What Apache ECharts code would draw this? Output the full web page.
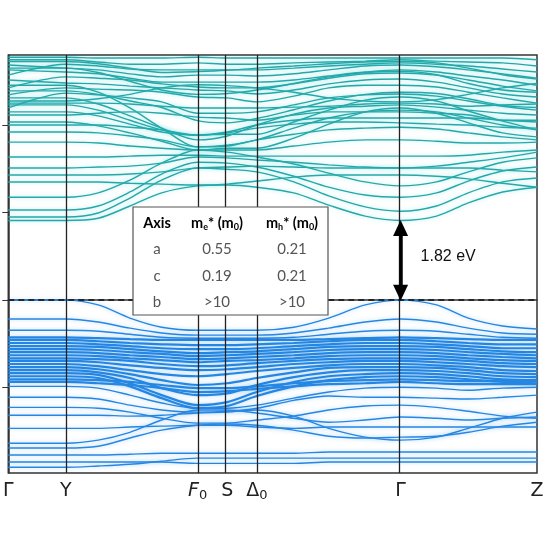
<!DOCTYPE html>
<html>
<head>
<meta charset="utf-8">
<script src="https://cdn.jsdelivr.net/npm/echarts@6/dist/echarts.min.js"></script>
<style>
html, body { margin: 0; padding: 0; background: #fff; }
#chart { width: 551px; height: 553px; }
</style>
</head>
<body>
<div id="chart"></div>
<script>
// k-path (normalised distance) and high-symmetry points
var kGrid = [0, 0.109, 0.17, 0.23, 0.29, 0.358, 0.414, 0.470, 0.54, 0.606, 0.675, 0.742, 0.81, 0.87, 0.935, 1.0];
var kTicks = [0, 0.109, 0.358, 0.414, 0.470, 0.742, 1.0];
var kLabels = ['{n|Γ}', '{n|Y}', '{it|F}{sub|0}', '{n|S}', '{n|Δ}{sub|0}', '{n|Γ}', '{n|Z}'];
var eTicks = [-2, 0, 2, 4];
var gapEv = 1.82;
var gapK = 0.742;

// effective mass table
var tableHead = ['Axis', '{b|m}{s|e}{b|* (m}{s|0}{b|)}', '{b|m}{s|h}{b|* (m}{s|0}{b|)}'];
var tableRows = [
	['a', '0.55', '0.21'],
	['c', '0.19', '0.21'],
	['b', '>10', '>10']
];

// conduction bands, eV, one value per kGrid point
var conductionBands = [
	[1.82, 1.82, 1.87, 2.15, 2.45, 2.61, 2.63, 2.58, 2.45, 2.17, 1.92, 1.82, 1.92, 2.22, 2.47, 2.58],
	[1.90, 1.90, 1.99, 2.33, 2.74, 3.02, 2.99, 2.93, 2.70, 2.38, 2.13, 2.03, 2.15, 2.45, 2.70, 2.79],
	[2.06, 2.06, 2.15, 2.47, 2.88, 3.15, 3.13, 3.04, 2.83, 2.58, 2.40, 2.35, 2.45, 2.72, 2.95, 3.04],
	[2.35, 2.35, 2.45, 2.74, 3.13, 3.43, 3.38, 3.27, 3.11, 2.90, 2.70, 2.61, 2.70, 2.93, 3.15, 3.25],
	[2.70, 2.70, 2.70, 2.67, 2.65, 2.63, 2.65, 2.72, 2.81, 2.86, 2.86, 2.86, 2.83, 2.77, 2.67, 2.58],
	[2.86, 2.86, 2.86, 2.88, 2.93, 3.02, 3.04, 3.06, 3.04, 3.02, 3.02, 3.02, 3.02, 3.02, 2.97, 2.93],
	[3.02, 3.02, 3.04, 3.06, 3.13, 3.27, 3.25, 3.20, 3.15, 3.09, 3.04, 3.02, 3.06, 3.15, 3.25, 3.38],
	[3.27, 3.27, 3.27, 3.29, 3.31, 3.31, 3.29, 3.29, 3.29, 3.29, 3.29, 3.29, 3.29, 3.31, 3.38, 3.43],
	[3.61, 3.61, 3.59, 3.52, 3.47, 3.43, 3.43, 3.43, 3.52, 3.61, 3.66, 3.66, 3.63, 3.59, 3.59, 3.61],
	[3.84, 3.84, 3.82, 3.75, 3.66, 3.50, 3.52, 3.66, 3.79, 3.89, 3.93, 3.95, 3.91, 3.82, 3.73, 3.66],
	[4.07, 4.07, 3.98, 3.82, 3.63, 3.43, 3.47, 3.47, 3.70, 4.02, 4.30, 4.39, 4.27, 4.05, 3.82, 3.73],
	[4.30, 4.30, 4.21, 4.02, 3.84, 3.77, 3.79, 3.79, 4.07, 4.34, 4.57, 4.64, 4.55, 4.32, 4.09, 3.89],
	[4.46, 4.46, 4.34, 4.11, 3.89, 3.77, 3.84, 4.00, 4.11, 4.16, 4.16, 4.16, 4.16, 4.16, 4.11, 4.07],
	[4.62, 4.62, 4.48, 4.21, 3.93, 3.66, 3.75, 4.00, 4.25, 4.39, 4.43, 4.46, 4.41, 4.34, 4.27, 4.23],
	[4.39, 4.73, 4.69, 4.62, 4.53, 4.27, 4.27, 4.30, 4.46, 4.62, 4.69, 4.71, 4.66, 4.55, 4.43, 4.34],
	[4.69, 4.85, 4.82, 4.80, 4.75, 4.64, 4.62, 4.53, 4.66, 4.85, 4.91, 4.91, 4.87, 4.75, 4.62, 4.50],
	[5.03, 4.96, 4.94, 4.89, 4.85, 4.80, 4.78, 4.71, 4.80, 4.94, 5.03, 5.05, 4.98, 4.85, 4.71, 4.64],
	[4.85, 5.10, 5.07, 5.03, 4.94, 4.87, 4.85, 4.85, 4.94, 5.07, 5.17, 5.19, 5.14, 5.03, 4.89, 4.78],
	[5.26, 5.21, 5.17, 5.07, 4.98, 4.98, 4.98, 4.98, 5.03, 5.12, 5.21, 5.26, 5.21, 5.12, 5.03, 4.91],
	[5.37, 5.30, 5.26, 5.17, 5.10, 5.14, 5.14, 5.12, 5.17, 5.26, 5.35, 5.37, 5.33, 5.26, 5.17, 5.07],
	[5.14, 5.39, 5.35, 5.28, 5.26, 5.26, 5.26, 5.26, 5.30, 5.35, 5.39, 5.42, 5.39, 5.35, 5.28, 5.21],
	[5.49, 5.49, 5.44, 5.39, 5.39, 5.42, 5.39, 5.39, 5.42, 5.44, 5.46, 5.49, 5.46, 5.44, 5.42, 5.35],
	[5.55, 5.55, 5.53, 5.53, 5.53, 5.55, 5.53, 5.53, 5.53, 5.53, 5.53, 5.53, 5.53, 5.53, 5.53, 5.49],
	[4.23, 4.23, 4.27, 4.30, 4.27, 4.18, 4.16, 4.11, 4.23, 4.30, 4.30, 4.30, 4.27, 4.23, 4.11, 4.11],
	[4.50, 4.50, 4.50, 4.48, 4.43, 4.39, 4.39, 4.39, 4.41, 4.43, 4.48, 4.50, 4.48, 4.43, 4.46, 4.48],
	[4.91, 4.91, 4.75, 4.39, 3.93, 3.50, 3.54, 3.66, 3.93, 4.16, 4.30, 4.34, 4.30, 4.16, 4.00, 3.89],
	[4.00, 4.00, 4.00, 3.95, 3.89, 3.77, 3.82, 3.93, 4.02, 4.07, 4.07, 4.05, 4.02, 4.00, 3.95, 3.93],
	[5.30, 5.30, 5.20, 5.00, 4.80, 4.70, 4.72, 4.80, 4.95, 5.10, 5.20, 5.23, 5.15, 4.95, 4.80, 4.75],
	[4.55, 4.55, 4.60, 4.70, 4.85, 4.92, 4.90, 4.85, 4.75, 4.62, 4.55, 4.53, 4.58, 4.70, 4.85, 4.95],
	[5.45, 5.45, 5.40, 5.30, 5.20, 5.22, 5.25, 5.30, 5.35, 5.40, 5.44, 5.45, 5.42, 5.30, 5.15, 5.05],
	[4.78, 4.78, 4.70, 4.55, 4.40, 4.10, 4.05, 4.15, 4.35, 4.55, 4.70, 4.75, 4.72, 4.60, 4.45, 4.40]
];

// valence bands, eV
var valenceBands = [
	[0, 0, -0.11, -0.41, -0.62, -0.69, -0.69, -0.69, -0.62, -0.41, -0.11, 0, -0.11, -0.41, -0.59, -0.66],
	[-0.43, -0.43, -0.50, -0.64, -0.75, -0.80, -0.80, -0.80, -0.75, -0.64, -0.50, -0.43, -0.50, -0.64, -0.75, -0.78],
	[-0.69, -0.69, -0.71, -0.78, -0.85, -0.87, -0.87, -0.87, -0.85, -0.78, -0.71, -0.69, -0.71, -0.78, -0.85, -0.87],
	[-0.85, -0.85, -0.87, -0.89, -0.91, -0.91, -0.91, -0.91, -0.91, -0.89, -0.87, -0.85, -0.87, -0.89, -0.91, -0.91],
	[-0.91, -0.91, -0.94, -0.98, -1.01, -1.03, -1.03, -1.01, -0.98, -0.94, -0.91, -0.91, -0.94, -0.98, -1.01, -1.01],
	[-0.98, -0.98, -1.01, -1.05, -1.10, -1.12, -1.12, -1.10, -1.05, -1.01, -0.98, -0.98, -1.01, -1.05, -1.10, -1.10],
	[-1.05, -1.05, -1.07, -1.12, -1.17, -1.21, -1.19, -1.17, -1.12, -1.07, -1.05, -1.05, -1.07, -1.12, -1.17, -1.19],
	[-1.12, -1.12, -1.14, -1.19, -1.23, -1.28, -1.26, -1.23, -1.19, -1.14, -1.12, -1.12, -1.14, -1.19, -1.23, -1.26],
	[-1.19, -1.19, -1.21, -1.26, -1.30, -1.35, -1.33, -1.30, -1.26, -1.21, -1.19, -1.19, -1.21, -1.26, -1.30, -1.33],
	[-1.26, -1.26, -1.28, -1.33, -1.37, -1.42, -1.39, -1.37, -1.33, -1.28, -1.26, -1.26, -1.28, -1.33, -1.37, -1.39],
	[-1.33, -1.33, -1.35, -1.39, -1.46, -1.51, -1.49, -1.44, -1.39, -1.35, -1.33, -1.33, -1.35, -1.39, -1.44, -1.46],
	[-1.39, -1.39, -1.42, -1.49, -1.55, -1.60, -1.58, -1.53, -1.46, -1.42, -1.39, -1.39, -1.42, -1.46, -1.51, -1.53],
	[-1.46, -1.46, -1.51, -1.60, -1.69, -1.74, -1.69, -1.62, -1.55, -1.49, -1.46, -1.46, -1.49, -1.53, -1.60, -1.62],
	[-1.53, -1.53, -1.58, -1.69, -1.83, -1.94, -1.90, -1.78, -1.65, -1.55, -1.53, -1.53, -1.55, -1.60, -1.67, -1.69],
	[-1.60, -1.60, -1.65, -1.78, -2.01, -2.17, -2.13, -1.94, -1.76, -1.65, -1.60, -1.60, -1.62, -1.67, -1.74, -1.76],
	[-1.67, -1.67, -1.71, -1.90, -2.17, -2.40, -2.33, -2.10, -1.87, -1.74, -1.69, -1.67, -1.69, -1.74, -1.81, -1.83],
	[-1.74, -1.74, -1.78, -1.97, -2.24, -2.47, -2.42, -2.19, -1.97, -1.83, -1.76, -1.74, -1.76, -1.81, -1.87, -1.90],
	[-1.81, -1.81, -1.83, -1.87, -1.94, -2.01, -2.01, -1.97, -1.90, -1.85, -1.83, -1.81, -1.83, -1.85, -1.85, -1.85],
	[-1.87, -1.87, -1.90, -1.94, -2.01, -2.10, -2.08, -2.03, -1.97, -1.92, -1.90, -1.87, -1.90, -1.92, -1.92, -1.92],
	[-1.97, -1.97, -2.01, -2.17, -2.35, -2.47, -2.47, -2.40, -2.24, -2.10, -2.01, -1.99, -2.01, -2.06, -2.01, -1.99],
	[-2.22, -2.22, -2.26, -2.40, -2.51, -2.56, -2.54, -2.47, -2.29, -2.19, -2.22, -2.22, -2.24, -2.26, -2.22, -2.17],
	[-2.45, -2.45, -2.47, -2.56, -2.70, -2.81, -2.81, -2.74, -2.65, -2.51, -2.42, -2.40, -2.45, -2.54, -2.65, -2.70],
	[-2.63, -2.63, -2.63, -2.65, -2.63, -2.58, -2.56, -2.51, -2.65, -2.93, -3.13, -3.20, -3.13, -2.93, -2.70, -2.56],
	[-2.93, -2.93, -2.93, -2.90, -2.88, -2.86, -2.86, -2.90, -2.93, -2.90, -2.90, -2.90, -2.90, -2.90, -2.90, -2.90],
	[-3.27, -3.27, -3.20, -3.02, -2.74, -2.51, -2.51, -2.58, -2.70, -2.79, -2.74, -2.67, -2.70, -2.74, -2.70, -2.67],
	[-3.38, -3.38, -3.34, -3.15, -2.97, -2.86, -2.83, -2.86, -2.97, -3.11, -3.15, -3.13, -3.11, -3.02, -2.88, -2.79],
	[-3.54, -3.54, -3.54, -3.52, -3.50, -3.50, -3.50, -3.50, -3.50, -3.47, -3.47, -3.47, -3.47, -3.47, -3.47, -3.47],
	[-3.70, -3.70, -3.70, -3.70, -3.70, -3.73, -3.73, -3.73, -3.73, -3.70, -3.70, -3.70, -3.70, -3.70, -3.70, -3.70],
	[-3.82, -3.82, -3.79, -3.75, -3.68, -3.61, -3.61, -3.61, -3.61, -3.61, -3.61, -3.61, -3.61, -3.61, -3.61, -3.61]
];

var cbColor = '#25a8a8';
var vbColor = '#2587e2';

function bandSeries(band, color, glow) {
	// thick lines inside the crowded valence block, thin elsewhere
	var dense = band[0] <= -0.8 && band[0] >= -1.9;
	return {
		type: 'line',
		data: kGrid.map(function(k, i) { return [k, band[i]]; }),
		smooth: 0.3,
		symbol: 'none',
		silent: true,
		z: 2,
		lineStyle: { color: color, width: dense ? 2.2 : 1.4, shadowBlur: 4, shadowColor: glow }
	};
}

var series = [];
conductionBands.forEach(function(b) { series.push(bandSeries(b, cbColor, 'rgba(40,200,210,0.35)')); });
valenceBands.forEach(function(b) { series.push(bandSeries(b, vbColor, 'rgba(40,140,240,0.35)')); });

// high-symmetry verticals + VBM dashed line
series.push({
	type: 'line',
	data: [],
	silent: true,
	z: 4,
	markLine: {
		symbol: 'none',
		silent: true,
		label: { show: false },
		animation: false,
		data: kTicks.slice(1, -1).map(function(k) {
			return { xAxis: k, lineStyle: { color: '#222', width: 1.3, type: 'solid' } };
		}).concat([{ yAxis: 0, lineStyle: { color: '#111', width: 1.5, type: [6, 4] } }])
	}
});

// band gap arrow
series.push({
	type: 'line',
	data: [],
	silent: true,
	z: 12,
	markLine: {
		symbol: ['triangle', 'triangle'],
		symbolSize: [15, 16],
		silent: true,
		animation: false,
		label: { show: false },
		lineStyle: { color: '#000', width: 3.5, type: 'solid' },
		data: [[{ coord: [gapK, gapEv - 0.17] }, { coord: [gapK, 0.17] }]]
	},
	markPoint: {
		symbol: 'circle',
		symbolSize: 0,
		silent: true,
		animation: false,
		label: {
			show: true,
			position: 'right',
			distance: 20,
			formatter: gapEv.toFixed(2) + ' eV',
			fontFamily: 'Liberation Sans, Arial, sans-serif',
			fontSize: 16,
			color: '#111'
		},
		data: [{ coord: [gapK, gapEv / 2 + 0.08] }]
	}
});

// table overlay, on its own layer above the plot
var tblX = 133, tblY = 207, tblW = 195, tblH = 108;
var colX = [24, 84, 159];
var rowY = [16, 42, 69, 95];
var tableFont = 'Lato, "Open Sans", sans-serif';
var tableChildren = [{
	type: 'rect',
	zlevel: 1, z: 100,
	shape: { x: 0, y: 0, width: tblW, height: tblH },
	style: { fill: '#fff', stroke: '#555', lineWidth: 1.2 }
}];
tableHead.forEach(function(t, c) {
	tableChildren.push({
		type: 'text',
		zlevel: 1, z: 101,
		x: colX[c], y: rowY[0],
		style: {
			text: c === 0 ? '{b|' + t + '}' : t,
			align: 'center', verticalAlign: 'middle',
			rich: {
				b: { fontFamily: tableFont, fontWeight: 'bold', fontSize: 14.5, color: '#333', lineHeight: 18 },
				s: { fontFamily: tableFont, fontWeight: 'bold', fontSize: 9, color: '#333', lineHeight: 11, verticalAlign: 'bottom' }
			}
		}
	});
});
tableRows.forEach(function(row, r) {
	row.forEach(function(t, c) {
		tableChildren.push({
			type: 'text',
			zlevel: 1, z: 101,
			x: colX[c], y: rowY[r + 1],
			style: {
				text: t, align: 'center', verticalAlign: 'middle',
				fontFamily: tableFont, fontSize: 15, fill: '#555'
			}
		});
	});
});

var chart = echarts.init(document.getElementById('chart'));
chart.setOption({
	animation: false,
	backgroundColor: '#fff',
	grid: { left: 7, right: 14, top: 55, bottom: 80, show: true, borderColor: '#333', borderWidth: 1.5, backgroundColor: 'transparent' },
	xAxis: {
		type: 'value', min: 0, max: 1,
		axisLine: { show: true, lineStyle: { color: '#333', width: 1.5 } },
		axisTick: { show: false },
		splitLine: { show: false },
		axisLabel: {
			customValues: kTicks,
			margin: 7,
			color: '#222',
			formatter: function(v) {
				var best = 0;
				kTicks.forEach(function(k, i) { if (Math.abs(k - v) < Math.abs(kTicks[best] - v)) best = i; });
				return kLabels[best];
			},
			rich: {
				n: { fontFamily: 'DejaVu Sans, sans-serif', fontSize: 19, lineHeight: 22, color: '#222' },
				it: { fontFamily: 'DejaVu Sans, sans-serif', fontSize: 19, lineHeight: 22, fontStyle: 'italic', color: '#222' },
				sub: { fontFamily: 'DejaVu Sans, sans-serif', fontSize: 13, lineHeight: 14, verticalAlign: 'bottom', color: '#222' }
			}
		}
	},
	yAxis: {
		type: 'value', min: -3.95, max: 5.6,
		axisLine: { show: true, lineStyle: { color: '#333', width: 1.5 } },
		axisTick: { show: true, inside: false, length: 6, customValues: eTicks, lineStyle: { color: '#333' } },
		axisLabel: { show: false },
		splitLine: { show: false }
	},
	series: series,
	graphic: {
		elements: [{
			type: 'group',
			x: tblX, y: tblY,
			zlevel: 1, z: 100,
			children: tableChildren
		}]
	}
});
</script>
</body>
</html>
